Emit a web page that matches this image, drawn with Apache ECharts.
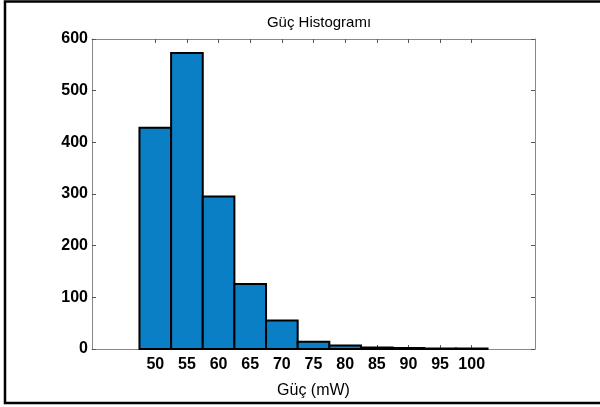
<!DOCTYPE html>
<html>
<head>
<meta charset="utf-8">
<script src="https://cdn.jsdelivr.net/npm/echarts@6/dist/echarts.min.js"></script>
<style>html,body{margin:0;padding:0;background:#fff}#c{width:600px;height:407px}</style>
</head>
<body>
<div id="c"></div>
<script>
var binCenters = [50, 55, 60, 65, 70, 75, 80, 85, 90, 95, 100];
var counts = [428, 573, 295, 126, 55, 14, 7, 3, 2, 1, 1];
var binWidth = 5;
var xTicks = [50, 55, 60, 65, 70, 75, 80, 85, 90, 95, 100];

var chart = echarts.init(document.getElementById('c'));
var data = binCenters.map(function (c, i) { return [c, counts[i]]; });
var FF = 'Liberation Sans, Arial, sans-serif';
var lbl = {fontFamily: FF, fontWeight: 'bold', fontSize: 16, color: '#000'};
chart.setOption({
  animation: false,
  title: {
    text: 'Güç Histogramı', left: 314, top: 10, textAlign: 'center',
    textStyle: {fontFamily: FF, fontWeight: 'normal', fontSize: 15, color: '#000'}
  },
  grid: {left: 92, right: 65, top: 39, bottom: 58},
  xAxis: [{
    type: 'value', min: 40, max: 110,
    name: 'Güç (mW)', nameLocation: 'middle', nameGap: 34,
    nameTextStyle: {fontFamily: FF, fontSize: 16, color: '#000'},
    axisLine: {show: true, onZero: false, lineStyle: {color: '#888', width: 1}},
    axisTick: {show: true, inside: true, length: 4, customValues: xTicks, lineStyle: {color: '#555'}},
    axisLabel: Object.assign({margin: 8, customValues: xTicks}, lbl),
    splitLine: {show: false}
  }, {
    type: 'value', min: 40, max: 110, position: 'top',
    axisLine: {show: true, onZero: false, lineStyle: {color: '#888', width: 1}},
    axisTick: {show: true, inside: true, length: 4, customValues: xTicks, lineStyle: {color: '#555'}},
    axisLabel: {show: false, customValues: xTicks}, splitLine: {show: false}
  }],
  yAxis: [{
    type: 'value', min: 0, max: 600, interval: 100,
    axisLine: {show: true, onZero: false, lineStyle: {color: '#888', width: 1}},
    axisTick: {show: true, inside: true, length: 4, lineStyle: {color: '#555'}},
    axisLabel: Object.assign({margin: 4}, lbl),
    splitLine: {show: false}
  }, {
    type: 'value', min: 0, max: 600, interval: 100, position: 'right',
    axisLine: {show: true, onZero: false, lineStyle: {color: '#888', width: 1}},
    axisTick: {show: true, inside: true, length: 4, lineStyle: {color: '#555'}},
    axisLabel: {show: false}, splitLine: {show: false}
  }],
  series: [{
    type: 'custom',
    xAxisIndex: 0, yAxisIndex: 0,
    data: data,
    renderItem: function (params, api) {
      var c = api.value(0), v = api.value(1);
      var p0 = api.coord([c - binWidth / 2, v]);
      var p1 = api.coord([c + binWidth / 2, 0]);
      return {
        type: 'rect',
        shape: {x: p0[0], y: p0[1], width: p1[0] - p0[0], height: p1[1] - p0[1]},
        style: {fill: '#0a7fc6', stroke: '#000', lineWidth: 2}
      };
    }
  }],
  graphic: [{
    type: 'polyline', silent: true,
    shape: {points: [[600, 1.5], [5, 1.5], [5, 403], [600, 403]]},
    style: {stroke: '#000', lineWidth: 2.5, fill: null}
  }]
});
</script>
</body>
</html>
